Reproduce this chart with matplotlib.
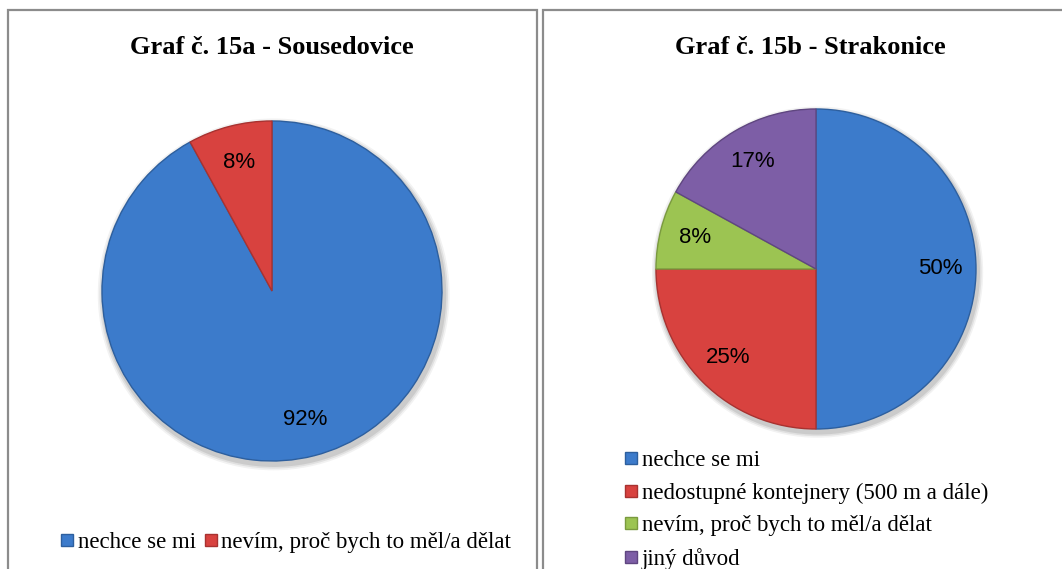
import matplotlib
matplotlib.use("Agg")
import matplotlib.pyplot as plt
from matplotlib.patches import Rectangle, Circle
from matplotlib.lines import Line2D

# ---- data ----
title_a = "Graf č. 15a - Sousedovice"
cats_a = ["nechce se mi", "nevím, proč bych to měl/a dělat"]
vals_a = [92, 8]

title_b = "Graf č. 15b - Strakonice"
cats_b = ["nechce se mi", "nedostupné kontejnery (500 m a dále)",
          "nevím, proč bych to měl/a dělat", "jiný důvod"]
vals_b = [50, 25, 8, 17]

col_blue = "#3C7BCB"
col_red = "#D8423F"
col_green = "#9CC452"
col_purple = "#7D5EA6"
colors_a = [col_blue, col_red]
colors_b = [col_blue, col_red, col_green, col_purple]
edge_cols = {col_blue: "#2D5F9E", col_red: "#A83230", col_green: "#7A9A3E", col_purple: "#5F4680"}

W, H = 1062, 569
fig = plt.figure(figsize=(W / 100, H / 100), dpi=100)
fig.patch.set_facecolor("white")

serif = ["Liberation Serif", "DejaVu Serif"]
sans = ["Liberation Sans", "DejaVu Sans"]


def px_axes(cx, cy, r):
    return fig.add_axes([(cx - r) / W, (H - cy - r) / H, 2 * r / W, 2 * r / H])


# panel borders
for x0, x1 in [(8, 537), (543, 1070)]:
    fig.add_artist(Rectangle((x0 / W, -0.05), (x1 - x0) / W, (H - 10) / H + 0.05,
                             transform=fig.transFigure, fill=False,
                             edgecolor="#8C8C8C", linewidth=1.6))


def draw_pie(ax, vals, colors):
    # soft drop shadow
    for k, a in [(0.035, 0.05), (0.025, 0.07), (0.015, 0.09)]:
        ax.add_patch(Circle((0.01, -0.02), 1 + k, facecolor="black", alpha=a,
                            edgecolor="none", zorder=0))
    wedges, texts = ax.pie(
        vals, colors=colors, startangle=90, counterclock=False,
        labels=[f"{v}%" for v in vals], labeldistance=0.78,
        textprops=dict(fontsize=16, family=sans, color="black", ha="center", va="center"),
        wedgeprops=dict(linewidth=1.0, zorder=2),
    )
    for w, c in zip(wedges, colors):
        w.set_edgecolor(edge_cols[c])
    for t in texts:
        t.set_zorder(5)
    ax.set_xlim(-1.06, 1.06)
    ax.set_ylim(-1.06, 1.06)
    ax.set_aspect("equal")
    ax.axis("off")
    return wedges


ax_a = px_axes(272, 291, 170 * 1.06)
draw_pie(ax_a, vals_a, colors_a)
ax_b = px_axes(816, 269, 160 * 1.06)
draw_pie(ax_b, vals_b, colors_b)

# titles
fig.text(272 / W, 1 - 47 / H, title_a, ha="center", va="center",
         fontsize=19, fontweight="bold", family=serif)
fig.text(810 / W, 1 - 47 / H, title_b, ha="center", va="center",
         fontsize=19, fontweight="bold", family=serif)


def handles(cats, colors):
    return [Line2D([], [], linestyle="none", marker="s", markersize=8,
                   markerfacecolor=c, markeredgecolor=edge_cols[c], label=t)
            for t, c in zip(cats, colors)]


leg_a = fig.legend(handles=handles(cats_a, colors_a), ncol=2, loc="center",
                   bbox_to_anchor=(284 / W, 1 - 542 / H), frameon=False,
                   prop=dict(family=serif, size=16.5), handletextpad=0.0,
                   columnspacing=0.2, handlelength=0.9)

leg_b = fig.legend(handles=handles(cats_b, colors_b), ncol=1, loc="upper left",
                   bbox_to_anchor=(612 / W, 1 - 441 / H), frameon=False,
                   prop=dict(family=serif, size=16.5), handletextpad=0.0,
                   labelspacing=0.5, handlelength=0.9, borderaxespad=0)

fig.savefig("out.png", dpi=100, facecolor="white")
